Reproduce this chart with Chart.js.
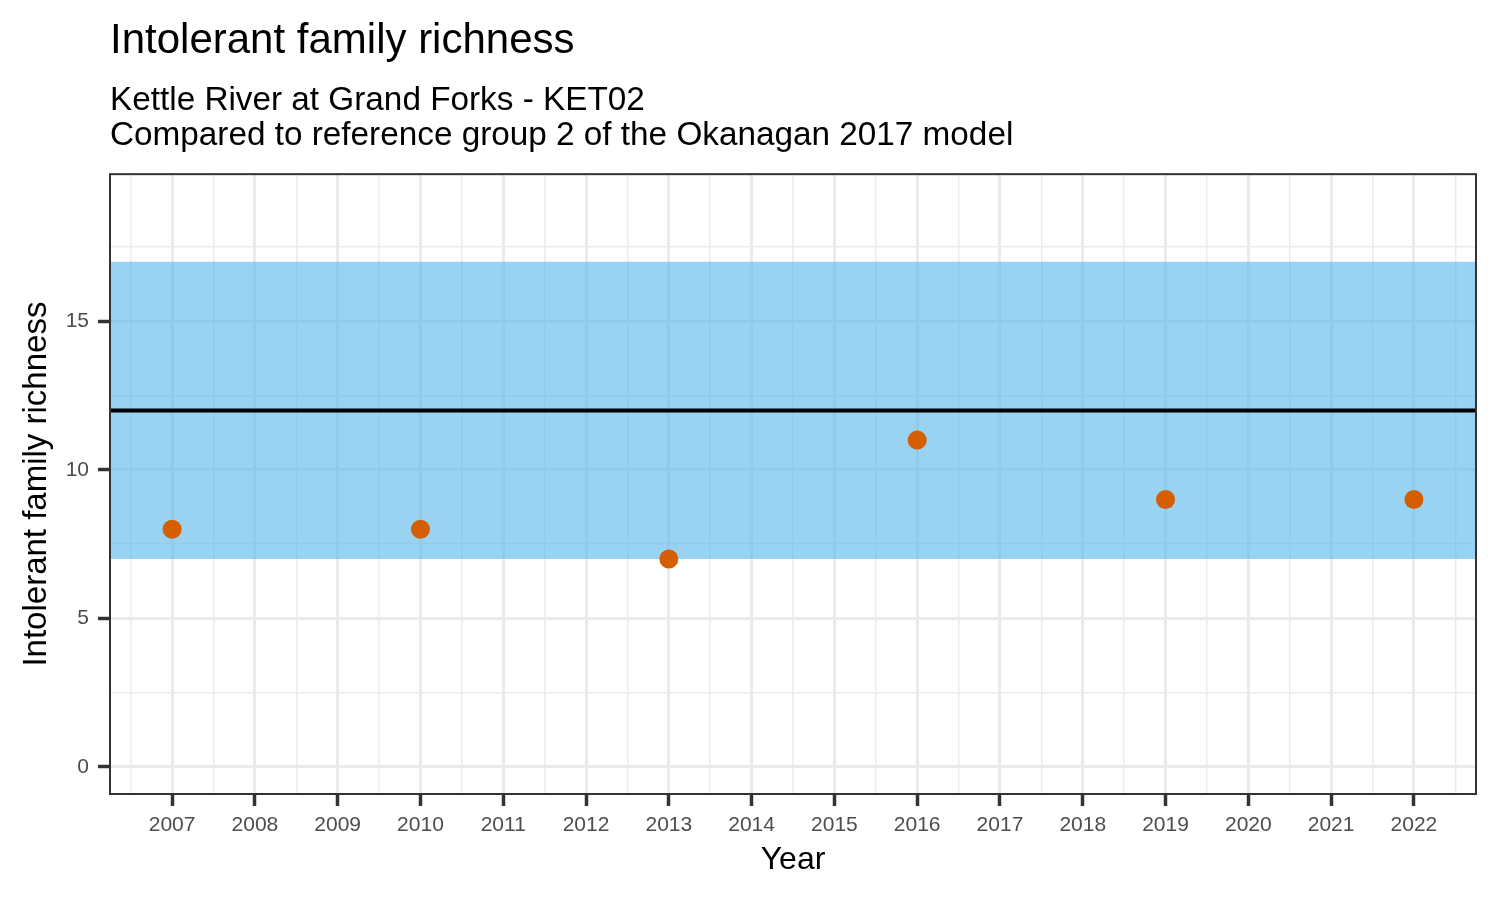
<!DOCTYPE html>
<html>
<head>
<meta charset="utf-8">
<script src="https://cdn.jsdelivr.net/npm/chart.js@4.4.0/dist/chart.umd.min.js"></script>
<style>
  body { margin: 0; background: #fff; }
</style>
</head>
<body>
<canvas id="myChart" width="1500" height="900"></canvas>
<script>
// data
const years = [2007, 2010, 2013, 2016, 2019, 2022];
const richness = [8, 8, 7, 11, 9, 9];
const refMedian = 12;
const refLow = 7;
const refHigh = 17;
const xLimits = [2006.25, 2022.75];
const yLimits = [-0.91, 19.95];
const xBreaks = [2007, 2008, 2009, 2010, 2011, 2012, 2013, 2014, 2015, 2016, 2017, 2018, 2019, 2020, 2021, 2022];
const yBreaks = [0, 5, 10, 15];

const FONT = '"Liberation Sans", Arial, Helvetica, sans-serif';

// majors plus the half-way minor lines, like ggplot
function withMinors(breaks, step, lo, hi) {
  const out = [];
  breaks.forEach(b => { out.push(b); out.push(b - step / 2); out.push(b + step / 2); });
  return [...new Set(out)].filter(v => v > lo && v < hi).sort((a, b) => a - b);
}
const xTicks = withMinors(xBreaks, 1, xLimits[0], xLimits[1]);
const yTicks = withMinors(yBreaks, 5, yLimits[0], yLimits[1]);

const panelBorder = {
  id: 'panelBorder',
  afterDatasetsDraw(chart) {
    const a = chart.chartArea;
    const ctx = chart.ctx;
    ctx.save();
    ctx.strokeStyle = '#333333';
    ctx.lineWidth = 2;
    ctx.strokeRect(a.left, a.top, a.right - a.left, a.bottom - a.top);
    ctx.restore();
  }
};

const ctx = document.getElementById('myChart').getContext('2d');
const myChart = new Chart(ctx, {
  type: 'scatter',
  data: {
    datasets: [
      {
        label: 'Richness',
        data: years.map((y, i) => ({ x: y, y: richness[i] })),
        backgroundColor: '#D55E00',
        borderColor: '#D55E00',
        pointRadius: 9.5,
        pointHoverRadius: 9.5,
        borderWidth: 0,
        order: 1
      },
      {
        label: 'Median',
        data: [{ x: xLimits[0], y: refMedian }, { x: xLimits[1], y: refMedian }],
        showLine: true,
        borderColor: '#000000',
        borderWidth: 4,
        pointRadius: 0,
        order: 2
      },
      {
        label: 'Reference range',
        data: [{ x: xLimits[0], y: refHigh }, { x: xLimits[1], y: refHigh }],
        showLine: true,
        borderWidth: 0,
        borderColor: 'rgba(0,0,0,0)',
        pointRadius: 0,
        backgroundColor: 'rgba(86, 180, 233, 0.6)',
        fill: { value: refLow },
        order: 3
      }
    ]
  },
  options: {
    responsive: false,
    animation: false,
    layout: { padding: { left: 0, right: 24, top: 0, bottom: 0 } },
    plugins: {
      legend: { display: false },
      tooltip: { enabled: false },
      title: {
        display: true,
        text: 'Intolerant family richness',
        align: 'start',
        fullSize: false,
        color: '#000000',
        font: { family: FONT, size: 42, weight: 'normal', lineHeight: 1.2 },
        padding: { top: 16, bottom: 0 }
      },
      subtitle: {
        display: true,
        text: ['Kettle River at Grand Forks - KET02', 'Compared to reference group 2 of the Okanagan 2017 model'],
        align: 'start',
        fullSize: false,
        color: '#000000',
        font: { family: FONT, size: 33.3, weight: 'normal', lineHeight: 1.04 },
        padding: { top: 17.5, bottom: 21 }
      }
    },
    scales: {
      x: {
        type: 'linear',
        min: xLimits[0],
        max: xLimits[1],
        afterBuildTicks: s => { s.ticks = xTicks.map(v => ({ value: v })); },
        afterFit: s => { s.height = 106; },
        border: { display: false },
        grid: {
          color: '#EBEBEB',
          lineWidth: c => (c.tick && Number.isInteger(c.tick.value)) ? 3 : 1.5,
          tickColor: c => (c.tick && Number.isInteger(c.tick.value)) ? '#333333' : 'rgba(0,0,0,0)',
          tickWidth: 3.5,
          tickLength: 12
        },
        ticks: {
          autoSkip: false,
          maxRotation: 0,
          minRotation: 0,
          padding: 7,
          color: '#4D4D4D',
          font: { family: FONT, size: 21 },
          callback: v => Number.isInteger(v) ? String(v) : ''
        },
        title: {
          display: true,
          text: 'Year',
          color: '#000000',
          font: { family: FONT, size: 32, lineHeight: 1.2 },
          padding: { top: 0, bottom: 21 }
        }
      },
      y: {
        type: 'linear',
        min: yLimits[0],
        max: yLimits[1],
        afterBuildTicks: s => { s.ticks = yTicks.map(v => ({ value: v })); },
        afterFit: s => { s.width = 110; },
        border: { display: false },
        grid: {
          color: '#EBEBEB',
          lineWidth: c => (c.tick && c.tick.value % 5 === 0) ? 3 : 1.5,
          tickColor: c => (c.tick && c.tick.value % 5 === 0) ? '#333333' : 'rgba(0,0,0,0)',
          tickWidth: 3.5,
          tickLength: 12
        },
        ticks: {
          autoSkip: false,
          padding: 9,
          color: '#4D4D4D',
          font: { family: FONT, size: 21 },
          callback: v => (v % 5 === 0) ? String(v) : ''
        },
        title: {
          display: true,
          text: 'Intolerant family richness',
          color: '#000000',
          font: { family: FONT, size: 33, lineHeight: 1.2 },
          padding: { top: 17, bottom: 0 }
        }
      }
    }
  },
  plugins: [panelBorder]
});
</script>
</body>
</html>
